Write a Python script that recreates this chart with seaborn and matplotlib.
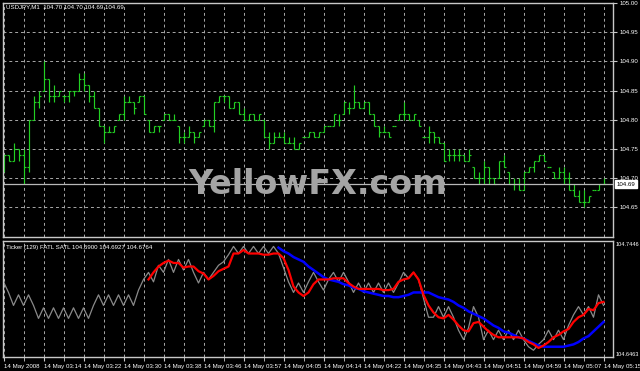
import matplotlib
matplotlib.use("Agg")
import matplotlib.pyplot as plt
import seaborn as sns
import pandas as pd
import numpy as np

symbol_header = "USDJPY,M1  104.70 104.70 104.69 104.69"
ind_header = "Ticker (129) FATL SATL 104.6900 104.6927 104.6764"

bar_open = [104.72,104.74,104.73,104.75,104.74,104.72,104.80,104.83,104.85,104.87,
            104.84,104.84,104.84,104.84,104.85,104.85,104.87,104.86,104.84,104.82,
            104.79,104.78,104.78,104.80,104.81,104.83,104.83,104.83,104.84,104.80,
            104.78,104.79,104.80,104.81,104.80,104.79,104.77,104.77,104.78,104.77,
            104.79,104.80,104.79,104.83,104.84,104.84,104.82,104.83,104.81,104.80,
            104.81,104.80,104.80,104.77,104.76,104.77,104.77,104.76,104.76,104.75,
            104.77,104.77,104.78,104.77,104.78,104.79,104.79,104.80,104.81,104.82,
            104.82,104.83,104.82,104.83,104.81,104.79,104.78,104.78,104.79,104.80,
            104.81,104.81,104.80,104.80,104.77,104.77,104.78,104.77,104.76,104.74,
            104.74,104.74,104.74,104.73,104.72,104.70,104.70,104.72,104.70,104.70,
            104.73,104.71,104.69,104.69,104.68,104.71,104.72,104.73,104.74,104.72,
            104.71,104.70,104.71,104.70,104.68,104.67,104.66,104.66,104.68,104.68,
            104.69]
bar_high = [104.74,104.74,104.76,104.75,104.75,104.80,104.84,104.85,104.90,104.87,
            104.86,104.85,104.84,104.85,104.85,104.88,104.88,104.86,104.85,104.82,
            104.79,104.79,104.79,104.81,104.84,104.84,104.83,104.84,104.84,104.80,
            104.79,104.79,104.81,104.81,104.81,104.79,104.78,104.79,104.78,104.78,
            104.80,104.80,104.83,104.84,104.84,104.84,104.83,104.83,104.82,104.81,
            104.81,104.81,104.80,104.78,104.78,104.78,104.78,104.77,104.77,104.76,
            104.77,104.78,104.78,104.78,104.79,104.79,104.81,104.81,104.83,104.83,
            104.86,104.83,104.83,104.83,104.81,104.79,104.79,104.78,104.79,104.81,
            104.83,104.81,104.81,104.80,104.77,104.79,104.78,104.77,104.76,104.75,
            104.75,104.75,104.74,104.75,104.72,104.71,104.73,104.72,104.70,104.73,
            104.74,104.71,104.70,104.70,104.71,104.72,104.73,104.74,104.74,104.72,
            104.71,104.72,104.72,104.71,104.69,104.68,104.68,104.67,104.68,104.69,
            104.70]
bar_low = [104.71,104.73,104.73,104.73,104.69,104.71,104.80,104.82,104.85,104.83,
           104.83,104.84,104.83,104.83,104.84,104.85,104.85,104.83,104.82,104.79,
           104.76,104.78,104.78,104.80,104.80,104.83,104.81,104.83,104.81,104.78,
           104.78,104.78,104.80,104.80,104.80,104.76,104.76,104.77,104.76,104.77,
           104.79,104.79,104.78,104.83,104.83,104.82,104.82,104.81,104.80,104.80,
           104.80,104.80,104.77,104.75,104.76,104.77,104.76,104.76,104.75,104.75,
           104.77,104.77,104.77,104.77,104.78,104.79,104.79,104.79,104.81,104.81,
           104.82,104.82,104.82,104.81,104.79,104.77,104.78,104.77,104.79,104.80,
           104.80,104.80,104.80,104.79,104.77,104.76,104.76,104.76,104.73,104.73,
           104.73,104.73,104.73,104.73,104.70,104.69,104.69,104.69,104.69,104.70,
           104.72,104.69,104.68,104.68,104.68,104.71,104.71,104.73,104.73,104.72,
           104.70,104.70,104.69,104.68,104.67,104.66,104.65,104.66,104.68,104.68,
           104.69]
bar_close = [104.74,104.73,104.75,104.74,104.72,104.80,104.83,104.84,104.87,104.84,
             104.84,104.85,104.84,104.85,104.85,104.87,104.86,104.84,104.82,104.79,
             104.78,104.78,104.79,104.81,104.83,104.83,104.82,104.84,104.81,104.78,
             104.79,104.79,104.81,104.80,104.80,104.77,104.77,104.78,104.77,104.78,
             104.80,104.79,104.83,104.84,104.84,104.82,104.83,104.81,104.80,104.81,
             104.80,104.81,104.77,104.76,104.77,104.77,104.76,104.76,104.75,104.76,
             104.77,104.78,104.77,104.78,104.79,104.79,104.81,104.80,104.83,104.82,
             104.83,104.82,104.83,104.81,104.79,104.78,104.78,104.77,104.79,104.81,
             104.81,104.80,104.81,104.79,104.77,104.78,104.77,104.76,104.73,104.74,
             104.74,104.74,104.73,104.74,104.70,104.70,104.72,104.70,104.69,104.73,
             104.72,104.69,104.69,104.68,104.71,104.72,104.73,104.74,104.73,104.72,
             104.70,104.71,104.70,104.68,104.67,104.66,104.66,104.67,104.68,104.69,
             104.69]

ticker = [104.710,104.701,104.690,104.699,104.690,104.699,104.690,104.679,104.688,104.679,
          104.688,104.679,104.688,104.679,104.688,104.679,104.688,104.679,104.690,104.699,
          104.690,104.699,104.690,104.699,104.690,104.699,104.690,104.703,104.712,104.718,
          104.710,104.724,104.718,104.729,104.718,104.729,104.720,104.729,104.718,104.709,
          104.718,104.712,104.718,104.724,104.727,104.733,104.740,104.734,104.740,104.734,
          104.740,104.734,104.740,104.734,104.740,104.734,104.722,104.710,104.701,104.709,
          104.701,104.710,104.718,104.710,104.703,104.712,104.718,104.710,104.718,104.710,
          104.701,104.709,104.701,104.709,104.701,104.709,104.701,104.709,104.701,104.709,
          104.718,104.713,104.718,104.712,104.696,104.680,104.680,104.689,104.680,104.689,
          104.680,104.669,104.661,104.671,104.689,104.680,104.661,104.669,104.661,104.669,
          104.661,104.669,104.661,104.669,104.661,104.655,104.652,104.657,104.661,104.669,
          104.661,104.669,104.661,104.673,104.682,104.689,104.682,104.689,104.680,104.699,
          104.690]

fatl_first_bar = 29
fatl = [104.712,104.718,104.723,104.726,104.728,104.726,104.726,104.722,104.723,104.723,
        104.719,104.717,104.712,104.715,104.719,104.721,104.723,104.734,104.734,104.737,
        104.734,104.734,104.734,104.733,104.733,104.734,104.734,104.730,104.720,104.706,
        104.701,104.698,104.701,104.708,104.712,104.712,104.712,104.713,104.713,104.713,
        104.709,104.706,104.704,104.704,104.704,104.704,104.704,104.703,104.703,104.704,
        104.710,104.712,104.713,104.718,104.712,104.699,104.690,104.684,104.680,104.679,
        104.682,104.678,104.673,104.669,104.668,104.675,104.676,104.672,104.668,104.665,
        104.663,104.663,104.663,104.663,104.663,104.662,104.659,104.657,104.654,104.656,
        104.659,104.663,104.665,104.668,104.670,104.676,104.680,104.682,104.687,104.686,
        104.692,104.693]

satl_first_bar = 55
satl = [104.739,104.736,104.734,104.731,104.729,104.727,104.723,104.720,104.717,104.714,
        104.712,104.711,104.710,104.708,104.707,104.705,104.704,104.702,104.701,104.700,
        104.699,104.698,104.698,104.697,104.697,104.698,104.699,104.701,104.701,104.701,
        104.701,104.699,104.697,104.696,104.695,104.693,104.690,104.688,104.685,104.683,
        104.681,104.679,104.676,104.673,104.671,104.668,104.667,104.665,104.663,104.662,
        104.660,104.658,104.656,104.655,104.655,104.655,104.655,104.655,104.656,104.657,
        104.659,104.662,104.664,104.668,104.672,104.676]

time_labels = ["14 May 2008", "14 May 03:14", "14 May 03:22", "14 May 03:30",
               "14 May 03:38", "14 May 03:46", "14 May 03:57", "14 May 04:05",
               "14 May 04:14", "14 May 04:22", "14 May 04:35", "14 May 04:43",
               "14 May 04:51", "14 May 04:59", "14 May 05:07", "14 May 05:15"]
price_ticks = [104.65, 104.70, 104.75, 104.80, 104.85, 104.90, 104.95, 105.00]
last_price = 104.69
ind_max = 104.7446
ind_min = 104.6463

BG = "black"
FRAME = "#c8c8c8"
GRID = "#a8a8a8"
BAR_GREEN = "#22d022"
FONT = ["Liberation Sans", "DejaVu Sans"]
FS = 4.4

W, H = 640, 371
fig = plt.figure(figsize=(W / 100, H / 100), dpi=100, facecolor=BG)


def box(x0, y0, x1, y1):
    return [x0 / W, 1 - y1 / H, (x1 - x0) / W, (y1 - y0) / H]


ax1 = fig.add_axes(box(3, 3, 613, 237))
ax2 = fig.add_axes(box(3, 241, 613, 357))

n_bars = len(bar_high)
bars_x = np.arange(n_bars)
label_step = n_bars // (len(time_labels) - 1)
grid_step = label_step // 2

for ax in (ax1, ax2):
    ax.set_facecolor(BG)
    for s in ax.spines.values():
        s.set_color(FRAME)
        s.set_linewidth(1.0)
    ax.set_xlim(-0.1, n_bars + 0.9)

# ---- price panel (OHLC bars) ----
ax1.vlines(bars_x, bar_low, bar_high, color=BAR_GREEN, lw=0.85)
ax1.hlines(bar_open, bars_x - 0.4, bars_x, color=BAR_GREEN, lw=0.85)
ax1.hlines(bar_close, bars_x, bars_x + 0.4, color=BAR_GREEN, lw=0.85)
ax1.axhline(last_price, color="#b8b8b8", lw=0.9)
ax1.set_ylim(104.5994, 105.00)
ax1.yaxis.tick_right()
ax1.set_yticks(price_ticks)
ax1.set_yticklabels([f"{v:.2f}" for v in price_ticks], fontsize=FS,
                    color="white", family=FONT)
ax1.set_xticks(np.arange(0, n_bars, grid_step))
ax1.set_xticklabels([])
ax1.tick_params(axis="x", length=0)
ax1.tick_params(axis="y", length=3, color=FRAME, pad=1.5, labelcolor="white")
ax1.grid(True, color=GRID, lw=0.7, ls=(0, (3, 3)))
ax1.set_axisbelow(True)

# ---- indicator panel ----
df_t = pd.DataFrame({"bar": bars_x, "price": ticker})
df_f = pd.DataFrame({"bar": np.arange(fatl_first_bar, fatl_first_bar + len(fatl)), "price": fatl})
df_s = pd.DataFrame({"bar": np.arange(satl_first_bar, satl_first_bar + len(satl)), "price": satl})
sns.lineplot(data=df_t, x="bar", y="price", ax=ax2, color="#8a8a8a", lw=0.9)
sns.lineplot(data=df_s, x="bar", y="price", ax=ax2, color="#0000ff", lw=1.8)
sns.lineplot(data=df_f, x="bar", y="price", ax=ax2, color="#ff0000", lw=1.6)
ax2.set_ylim(ind_min, ind_max)
ax2.set_xlim(-0.1, n_bars + 0.9)
ax2.set_xlabel("")
ax2.set_ylabel("")
ax2.set_yticks([])
ax2.set_xticks(np.arange(0, n_bars, label_step))
ax2.set_xticklabels(time_labels, fontsize=FS, color="white", family=FONT, ha="left")
ax2.set_xticks(np.arange(0, n_bars, grid_step), minor=True)
ax2.tick_params(axis="x", which="both", length=3, color=FRAME, pad=2)
ax2.grid(True, axis="x", which="both", color=GRID, lw=0.7, ls=(0, (3, 3)))
ax2.set_axisbelow(True)

# ---- texts ----
fig.text(6 / W, 1 - 7 / H, symbol_header, fontsize=FS, color="white",
         family=FONT, va="center", ha="left")
fig.text(6 / W, 1 - 247 / H, ind_header, fontsize=FS, color="white",
         family=FONT, va="center", ha="left")
fig.text(616 / W, 1 - 245 / H, f"{ind_max:.4f}", fontsize=4.0, color="white",
         family=FONT, va="center", ha="left")
fig.text(616 / W, 1 - 354 / H, f"{ind_min:.4f}", fontsize=4.0, color="white",
         family=FONT, va="center", ha="left")
ax1.text(1.0 + 4 / 610, last_price, f"{last_price:.2f}", transform=ax1.get_yaxis_transform(),
         fontsize=FS, color="black", family=FONT, va="center", ha="left",
         bbox=dict(boxstyle="square,pad=0.25", facecolor="white", edgecolor="white"),
         clip_on=False)

fig.text(318 / W, 1 - 184 / H, "YellowFX.com", fontsize=24, fontweight="bold",
         color="#a4a4a4", family="DejaVu Sans", ha="center", va="center")

fig.savefig("out.png", dpi=100, facecolor=BG)
